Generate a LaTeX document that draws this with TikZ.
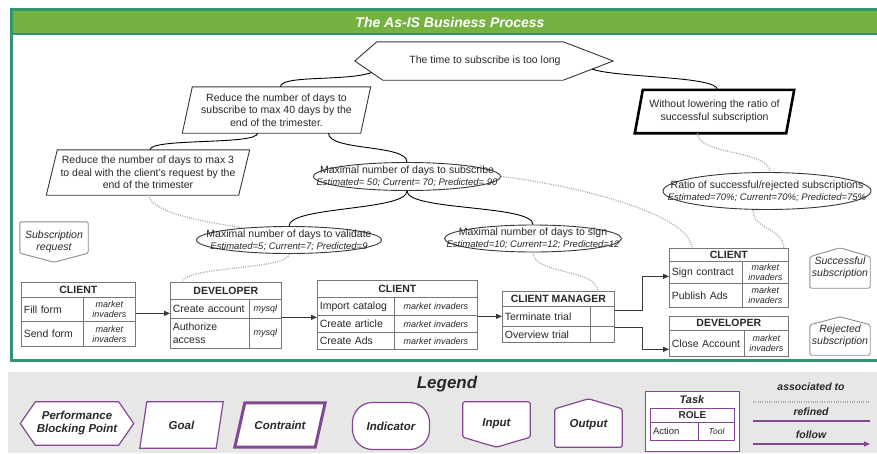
\documentclass[tikz,border=0pt]{standalone}
\usepackage{fontspec}
\setmainfont{Liberation Sans}
\usetikzlibrary{shapes.geometric,arrows.meta,calc}
\definecolor{frameteal}{RGB}{52,148,108}
\definecolor{titlegreen}{RGB}{118,178,66}
\definecolor{leggray}{RGB}{231,231,231}
\definecolor{txt}{RGB}{40,40,40}
\definecolor{shline}{RGB}{55,55,55}
\definecolor{tabline}{RGB}{120,120,120}
\definecolor{assoc}{RGB}{170,170,170}
\definecolor{legpurple}{RGB}{130,72,145}
\definecolor{iogray}{RGB}{140,140,140}
\newcommand\indline[1]{{\fontsize{9.5}{11}\selectfont\itshape #1}}
% parallelogram around a rectangular node: #1 style, #2 node, #3 half slant
\newcommand\pgram[3]{\draw[#1] ($(#2.north west)+(#3,0)$) -- ($(#2.north east)+(#3,0)$) -- ($(#2.south east)+(-#3,0)$) -- ($(#2.south west)+(-#3,0)$) -- cycle;}
\begin{document}
\begin{tikzpicture}[x=1pt,y=-1pt,
  base/.style={font=\fontsize{10.5}{12.5}\selectfont, text=txt, align=center, inner sep=1pt},
  goalline/.style={draw=shline, line width=0.9pt},
  consline/.style={draw=black, line width=2.6pt},
  indic/.style={ellipse, draw=shline, line width=0.9pt, inner sep=0pt},
  indtext/.style={font=\fontsize{10.5}{12}\selectfont, text=txt, align=center, inner sep=0pt},
  iotext/.style={font=\fontsize{10.5}{12}\selectfont\itshape, text=txt, align=center, inner sep=0pt},
  hcell/.style={draw=tabline, line width=0.7pt, anchor=north west, inner sep=0pt, font=\fontsize{10.5}{12}\selectfont\bfseries, text=txt},
  acell/.style={draw=tabline, line width=0.7pt, anchor=north west, inner xsep=2.5pt, inner ysep=0pt, align=left, font=\fontsize{10.5}{12.5}\selectfont, text=txt},
  tcell/.style={draw=tabline, line width=0.7pt, anchor=north west, inner xsep=1pt, inner ysep=0pt, align=center, font=\fontsize{9}{10}\selectfont\itshape, text=txt},
  refine/.style={draw=black, line width=0.9pt},
  assocline/.style={draw=assoc, line width=1.3pt, dash pattern=on 1pt off 1.3pt},
  follow/.style={draw=shline, line width=0.9pt, -{Triangle[length=6pt,width=5pt]}},
  sconn/.style={to path={.. controls ($(\tikztostart)+(0,#1)$) and ($(\tikztotarget)+(0,-#1)$) .. (\tikztotarget)}},
  legtext/.style={font=\fontsize{11.5}{13}\selectfont\bfseries\itshape, text=txt, align=center, inner sep=1pt},
  legshape/.style={draw=legpurple, fill=white, line width=1.2pt},
  legframe/.style={inner sep=0pt},
]
\useasboundingbox (0,0) rectangle (877,453);
\clip (0,0) rectangle (877,453);
\fill[white] (0,0) rectangle (877,453);

% ---------- frame ----------
\draw[frameteal, line width=3pt] (11.5,9.5) rectangle (895,360.5);
\fill[titlegreen] (13,11) rectangle (895,33);
\draw[frameteal, line width=2pt] (13,34) -- (895,34);
\node[font=\fontsize{14}{16}\selectfont\bfseries\itshape, text=white] (title) at (450,22) {The As-IS Business Process};

% ---------- performance blocking point ----------
\node[base, minimum width=156, minimum height=38] (pbp) at (485,61) {The time to subscribe is too long};
\coordinate (pbpNW) at ($(pbp.north west)+(-30,0)$);
\coordinate (pbpE) at ($(pbp.east)+(50,0)$);
\coordinate (pbpSW) at ($(pbp.south west)+(-24,0)$);
\coordinate (pbpW) at ($(pbp.west)+(-52,0)$);
\draw[shline, line width=0.9pt] (pbpNW) -- (pbp.north east) -- (pbpE) -- (pbp.south east) -- (pbpSW) -- (pbpW) -- cycle;
\coordinate (pbpL) at ($(pbpW)!0.6!(pbpSW)$);
\coordinate (pbpR) at ($(pbp.south east)!0.58!(pbpE)$);

% ---------- goals and constraint ----------
\node[base, minimum width=178, minimum height=46] (g1) at (276.5,110) {Reduce the number of days to\\subscribe to max 40 days by the\\end of the trimester.};
\pgram{goalline}{g1}{5}
\node[base, minimum width=192, minimum height=45] (g2) at (148,172.5) {Reduce the number of days to max 3\\to deal with the client's request by the\\end of the trimester};
\pgram{goalline}{g2}{5.5}
\node[base, minimum width=151, minimum height=43] (cons) at (714.5,111.5) {Without lowering the ratio of\\successful subscription};
\pgram{consline}{cons}{4}

% ---------- indicators ----------
\node[indic, minimum width=187, minimum height=28] (i1) at (407,176.5) {};
\node[indtext] (i1t) at (i1.center) {Maximal number of days to subscribe\\\indline{Estimated= 50; Current= 70; Predicted= 90}};
\node[indic, minimum width=185, minimum height=27] (i2) at (289,240) {};
\node[indtext] (i2t) at (i2.center) {Maximal number of days to validate\\\indline{Estimated=5; Current=7; Predicted=9}};
\node[indic, minimum width=177, minimum height=27] (i3) at (533,238.5) {};
\node[indtext] (i3t) at (i3.center) {Maximal number of days to sign\\\indline{Estimated=10; Current=12; Predicted=12}};
\node[indic, minimum width=208, minimum height=37] (i4) at (767,191) {};
\node[indtext] (i4t) at (i4.center) {Ratio of successful/rejected subscriptions\\\indline{Estimated=70\%; Current=70\%; Predicted=75\%}};

% ---------- input / outputs ----------
\node[iotext, minimum width=68, minimum height=40] (sin) at (54,242) {Subscription\\request};
\draw[iogray, line width=0.9pt, rounded corners=1.5pt] (sin.north west) -- (sin.north east) -- ($(sin.south east)+(0,-9)$) -- (sin.south) -- ($(sin.south west)+(0,-9)$) -- cycle;
\node[iotext, minimum width=60, minimum height=40] (sout1) at (840,268) {Successful\\subscription};
\draw[iogray, line width=0.9pt, rounded corners=1.5pt] (sout1.south west) -- ($(sout1.north west)+(0,9)$) -- (sout1.north) -- ($(sout1.north east)+(0,9)$) -- (sout1.south east) -- cycle;
\node[iotext, minimum width=60, minimum height=38] (sout2) at (840,336) {Rejected\\subscription};
\draw[iogray, line width=0.9pt, rounded corners=1.5pt] (sout2.south west) -- ($(sout2.north west)+(0,8)$) -- (sout2.north) -- ($(sout2.north east)+(0,8)$) -- (sout2.south east) -- cycle;

% ---------- tasks ----------
% T1
\node[hcell, minimum width=114, minimum height=15] (t1h) at (21,282) {CLIENT};
\node[acell, text width=57, minimum height=24] (t1a1) at (21,297) {Fill form};
\node[tcell, text width=50, minimum height=24] (t1t1) at (83,297) {market\\invaders};
\node[acell, text width=57, minimum height=25] (t1a2) at (21,321) {Send form};
\node[tcell, text width=50, minimum height=25] (t1t2) at (83,321) {market\\invaders};
% T2
\node[hcell, minimum width=111, minimum height=17] (t2h) at (170,282) {DEVELOPER};
\node[acell, text width=74, minimum height=19] (t2a1) at (170,299) {Create account};
\node[tcell, text width=30, minimum height=19] (t2t1) at (249,299) {mysql};
\node[acell, text width=74, minimum height=30] (t2a2) at (170,318) {Authorize\\access};
\node[tcell, text width=30, minimum height=30] (t2t2) at (249,318) {mysql};
% T3
\node[hcell, minimum width=160, minimum height=17] (t3h) at (317,280) {CLIENT};
\node[acell, text width=72, minimum height=18] (t3a1) at (317,297) {Import catalog};
\node[tcell, text width=81, minimum height=18] (t3t1) at (394,297) {market invaders};
\node[acell, text width=72, minimum height=17] (t3a2) at (317,315) {Create article};
\node[tcell, text width=81, minimum height=17] (t3t2) at (394,315) {market invaders};
\node[acell, text width=72, minimum height=17] (t3a3) at (317,332) {Create Ads};
\node[tcell, text width=81, minimum height=17] (t3t3) at (394,332) {market invaders};
% T4
\node[hcell, minimum width=112, minimum height=15] (t4h) at (502,291) {CLIENT MANAGER};
\node[acell, text width=83, minimum height=20] (t4a1) at (502,306) {Terminate trial};
\node[tcell, text width=22, minimum height=20] (t4t1) at (590,306) {};
\node[acell, text width=83, minimum height=16] (t4a2) at (502,326) {Overview trial};
\node[tcell, text width=22, minimum height=16] (t4t2) at (590,326) {};
% T5
\node[hcell, minimum width=119, minimum height=13] (t5h) at (669,248) {CLIENT};
\node[acell, text width=68, minimum height=22] (t5a1) at (669,261) {Sign contract};
\node[tcell, text width=44, minimum height=22] (t5t1) at (742,261) {market\\invaders};
\node[acell, text width=68, minimum height=24] (t5a2) at (669,283) {Publish Ads};
\node[tcell, text width=44, minimum height=24] (t5t2) at (742,283) {market\\invaders};
% T6
\node[hcell, minimum width=119, minimum height=14] (t6h) at (669,316) {DEVELOPER};
\node[acell, text width=70, minimum height=26] (t6a1) at (669,330) {Close Account};
\node[tcell, text width=42, minimum height=26] (t6t1) at (744,330) {market\\invaders};

% ---------- follow arrows ----------
\draw[follow] ($(t1t1.east)+(0,4)$) -- ($(t1t1.east -| t2a1.west)+(0,4)$);
\draw[follow] ($(t2t1.east)+(0,8.5)$) -- ($(t2t1.east -| t3a1.west)+(0,8.5)$);
\draw[follow] (t4a1.west -| t3t1.east) -- (t4a1.west);
\draw[follow] ($(t4t1.east)+(0,-6)$) -- ++(28,0) |- ($(t5a1.west)+(0,4)$);
\draw[follow] ($(t4t1.east)+(0,11)$) -- ++(28,0) |- ($(t6a1.west)+(0,6)$);

% ---------- connector end points ----------
\coordinate (g1n) at ($(g1.north)+(4,0)$);
\coordinate (consn) at ($(cons.north)+(3,0)$);
\coordinate (g1s1) at ($(g1.south)+(-19,0)$);
\coordinate (g1s2) at ($(g1.south)+(52,0)$);
\coordinate (g2n) at ($(g2.north)+(2,0)$);
\coordinate (conss) at ($(cons.south)+(-17,0)$);
\coordinate (i4n) at ($(i4.north)+(3,0)$);
\coordinate (i4s) at ($(i4.south)+(-14,0)$);
\coordinate (t2n) at ($(t2h.north west)+(13,0)$);
\coordinate (t4n) at ($(t4h.north east)+(-17,0)$);
\coordinate (t5n1) at ($(t5h.north west)+(23,0)$);
\coordinate (t5n2) at ($(t5h.north east)+(-5,0)$);

% ---------- refined ----------
\draw[refine] (pbpL) .. controls ($(pbpL)+(-25,9)$) and ($(g1n)+(0,-12)$) .. (g1n);
\draw[refine] (pbpR) .. controls ($(pbpR)+(25,9)$) and ($(consn)+(0,-14)$) .. (consn);
\draw[refine] (g1s1) to[sconn=12] (g2n);
\draw[refine] (g1s2) to[sconn=18] (i1.north);
\draw[refine] (i1.south) to[sconn=20] (i2.north);
\draw[refine] (i1.south) to[sconn=20] (i3.north);

% ---------- associated ----------
\draw[assocline] (g2.south) .. controls ($(g2.south)+(5,18)$) and ($(i2.165)+(-40,-6)$) .. (i2.165);
\draw[assocline] (i2.south) to[sconn=16] (t2n);
\draw[assocline] (i1.east) .. controls ($(i1.east)+(70,8)$) and ($(t5n1)+(-2,-35)$) .. (t5n1);
\draw[assocline] (i3.south) to[sconn=22] (t4n);
\draw[assocline] (conss) to[sconn=22] (i4n);
\draw[assocline] (i4s) to[sconn=20] (t5n2);

% ---------- legend ----------
\fill[leggray] (8,372) rectangle (877,453);
\node[font=\fontsize{17}{19}\selectfont\bfseries\itshape, text=txt] (legend) at (447,384) {Legend};

\node[legframe, minimum width=83, minimum height=43] (lpbp) at (77,423.5) {};
\draw[legshape] (lpbp.north west) -- (lpbp.north east) -- ($(lpbp.east)+(15,0)$) -- (lpbp.south east) -- (lpbp.south west) -- ($(lpbp.west)+(-15,0)$) -- cycle;
\node[legtext] (lpbpt) at (lpbp.center) {Performance\\Blocking Point};

\node[legframe, minimum width=76, minimum height=46] (lgoal) at (181.5,425) {};
\pgram{legshape}{lgoal}{3.5}
\node[legtext] (lgoalt) at (lgoal.center) {Goal};

\node[legframe, minimum width=80, minimum height=44] (lcons) at (280,425) {};
\pgram{legshape, line width=3pt}{lcons}{5}
\node[legtext] (lconst) at (lcons.center) {Contraint};

\node[legtext, legshape, rounded corners=20pt, minimum width=77, minimum height=47] (lind) at (391,426) {Indicator};

\node[legframe, minimum width=67, minimum height=45] (lin) at (496.5,424.5) {};
\draw[legshape, rounded corners=1.5pt] (lin.north west) -- (lin.north east) -- ($(lin.south east)+(0,-10)$) -- (lin.south) -- ($(lin.south west)+(0,-10)$) -- cycle;
\node[legtext] (lint) at ($(lin.center)+(0,-1)$) {Input};

\node[legframe, minimum width=67, minimum height=48] (lout) at (588.5,423) {};
\draw[legshape, rounded corners=1.5pt] (lout.south west) -- ($(lout.north west)+(0,10)$) -- (lout.north) -- ($(lout.north east)+(0,10)$) -- (lout.south east) -- cycle;
\node[legtext] (loutt) at ($(lout.center)+(0,2)$) {Output};

\node[legshape, line width=1.3pt, anchor=north west, minimum width=94, minimum height=60, inner sep=0pt] (ltask) at (645,391) {};
\node[legtext, font=\fontsize{11}{12}\selectfont\bfseries\itshape] (ltaskt) at (692,399.5) {Task};
\node[hcell, draw=legpurple, line width=1pt, minimum width=84, minimum height=14, font=\fontsize{10}{11}\selectfont\bfseries] (lrole) at (650,408) {ROLE};
\node[acell, draw=legpurple, line width=1pt, text width=43, minimum height=18, font=\fontsize{9.5}{11}\selectfont] (lact) at (650,422) {Action};
\node[tcell, draw=legpurple, line width=1pt, text width=34, minimum height=18, font=\fontsize{8.5}{10}\selectfont\itshape] (ltool) at (698,422) {Tool};

\node[legtext, font=\fontsize{10.5}{12}\selectfont\bfseries\itshape] (lassoc) at (811,387) {associated to};
\coordinate (la1) at (753,402);
\coordinate (la2) at (870,402);
\draw[assocline, line width=1.1pt] (la1) -- (la2);
\node[legtext, font=\fontsize{10.5}{12}\selectfont\bfseries\itshape] (lref) at (811,412) {refined};
\coordinate (lr1) at (753,421);
\coordinate (lr2) at (870,421);
\draw[legpurple, line width=1.2pt] (lr1) -- (lr2);
\node[legtext, font=\fontsize{10.5}{12}\selectfont\bfseries\itshape] (lfol) at (811,435) {follow};
\coordinate (lf1) at (753,444);
\coordinate (lf2) at (870,444);
\draw[legpurple, line width=1.2pt, -{Triangle[length=6pt,width=5pt]}] (lf1) -- (lf2);
\end{tikzpicture}
\end{document}
